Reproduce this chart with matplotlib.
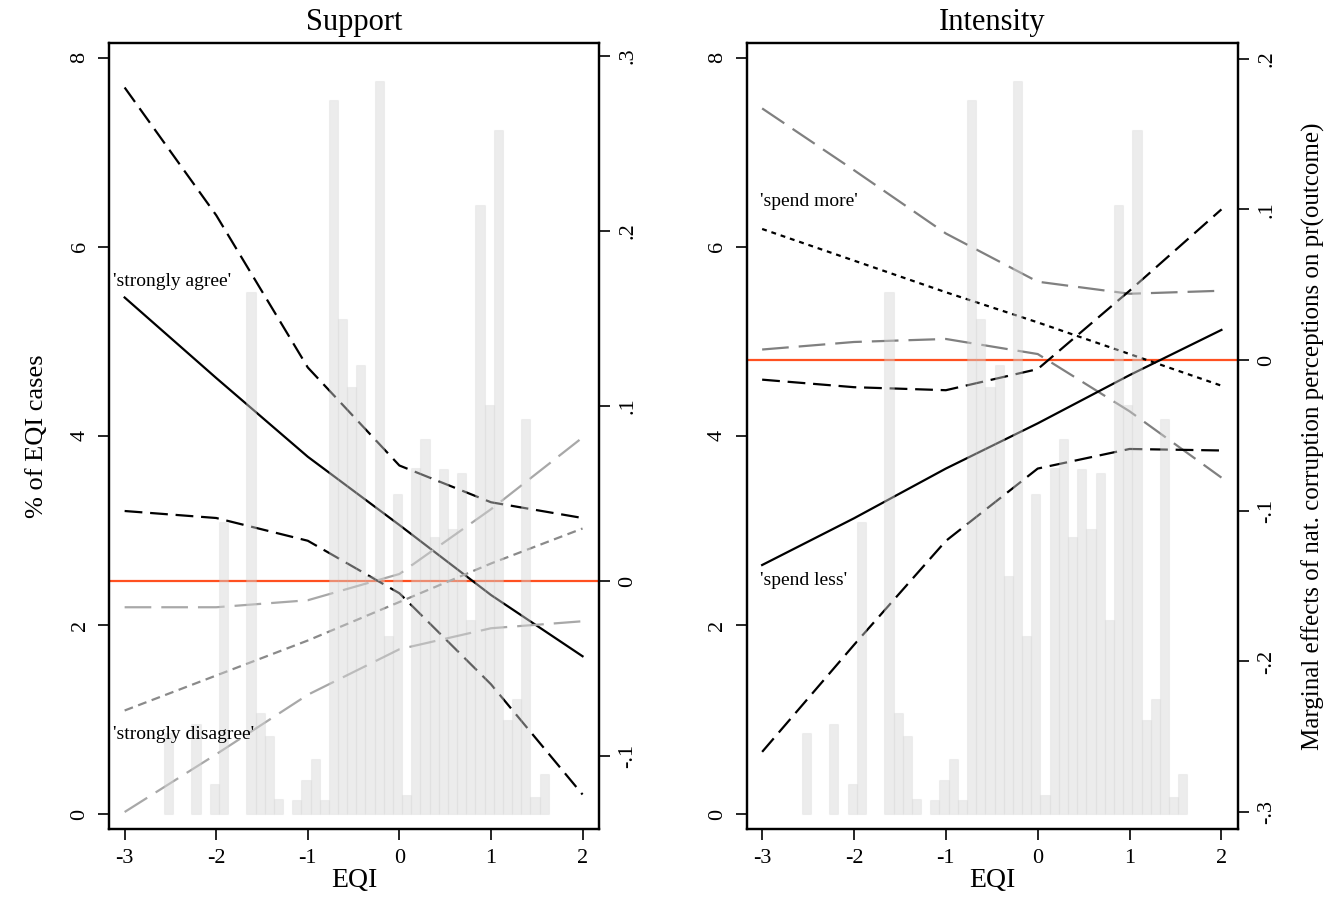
import matplotlib
matplotlib.use('Agg')
import matplotlib.pyplot as plt
from matplotlib.ticker import FuncFormatter

plt.rcParams['font.family'] = ['Liberation Serif', 'DejaVu Serif']
plt.rcParams['axes.unicode_minus'] = False

# EQI values where the margins were evaluated
eqi = [-3, -2, -1, 0, 1, 2]

# histogram of EQI, % of cases per 0.1 wide bin (left edge of each bin)
bins_left = [-2.57, -2.27, -2.07, -1.97, -1.67, -1.57, -1.47, -1.37,
             -1.17, -1.07, -0.97, -0.87, -0.77, -0.67, -0.57, -0.47,
             -0.37, -0.27, -0.17, -0.07, 0.03, 0.13, 0.23, 0.33,
             0.43, 0.53, 0.63, 0.73, 0.83, 0.93, 1.03, 1.13,
             1.23, 1.33, 1.43, 1.53]
pct = [0.86, 0.95, 0.32, 3.09, 5.52, 1.07, 0.83, 0.16,
       0.15, 0.36, 0.58, 0.15, 7.55, 5.24, 4.52, 4.75,
       2.52, 7.76, 1.88, 3.39, 0.20, 3.66, 3.97, 2.93,
       3.65, 3.01, 3.61, 2.05, 6.44, 4.33, 7.24, 0.99,
       1.22, 4.18, 0.18, 0.42]

# Support: marginal effects on pr(outcome)
agree = [0.162, 0.116, 0.071, 0.032, -0.008, -0.043]
agree_hi = [0.282, 0.209, 0.122, 0.066, 0.045, 0.036]
agree_lo = [0.040, 0.036, 0.023, -0.007, -0.059, -0.122]
disagree = [-0.074, -0.054, -0.034, -0.012, 0.010, 0.030]
disagree_hi = [-0.015, -0.015, -0.011, 0.004, 0.041, 0.082]
disagree_lo = [-0.132, -0.099, -0.065, -0.039, -0.027, -0.023]

# Intensity
more = [0.087, 0.066, 0.045, 0.025, 0.004, -0.017]
more_hi = [0.167, 0.126, 0.084, 0.052, 0.044, 0.046]
more_lo = [0.007, 0.012, 0.014, 0.004, -0.034, -0.078]
less = [-0.136, -0.105, -0.072, -0.042, -0.010, 0.020]
less_hi = [-0.013, -0.018, -0.020, -0.006, 0.046, 0.100]
less_lo = [-0.260, -0.189, -0.120, -0.072, -0.059, -0.060]


def stata_fmt(v, pos):
    # .1 instead of 0.1, like Stata does
    if abs(v) < 1e-9:
        return '0'
    return ('%.1f' % v).replace('0.', '.')


def make_panel(rect, title, me_lim, me_ticks):
    ax = fig.add_axes(rect)
    ax2 = ax.twinx()
    # histogram goes on top of the lines (it is see-through)
    ax.set_zorder(2)
    ax2.set_zorder(1)
    ax.patch.set_visible(False)

    ax.bar(bins_left, pct, width=0.1, align='edge',
           facecolor=(0.84, 0.84, 0.84, 0.45),
           edgecolor=(0.75, 0.75, 0.75, 0.15), linewidth=0.8)
    ax.set_xlim(-3.17, 2.18)
    ax.set_ylim(-0.162, 8.16)
    ax.set_xticks(eqi)
    ax.set_yticks([0, 2, 4, 6, 8])
    ax.set_xlabel('EQI', fontsize=20, labelpad=0)
    ax.set_title(title, fontsize=22, pad=9)

    ax2.axhline(0, color='#ff5020', linewidth=1.6)
    ax2.set_ylim(me_lim)
    ax2.set_yticks(me_ticks)
    ax2.yaxis.set_major_formatter(FuncFormatter(stata_fmt))

    for a in (ax, ax2):
        a.tick_params(direction='out', length=8, width=1.2, labelsize=16, pad=6)
        a.tick_params(axis='y', labelrotation=90)
        for sp in a.spines.values():
            sp.set_linewidth(1.6)
    for lab in ax.get_yticklabels() + ax2.get_yticklabels():
        lab.set_va('center')
    return ax, ax2


fig = plt.figure(figsize=(13.3, 8.99), dpi=100)

# left panel: Support
ax, ax2 = make_panel([0.0820, 0.0775, 0.3684, 0.875], 'Support',
                     (-0.1419, 0.3076), [-0.1, 0, 0.1, 0.2, 0.3])
ax2.plot(eqi, agree_hi, color='black', linewidth=1.6, linestyle=(0, (8, 3.5)))
ax2.plot(eqi, agree, color='black', linewidth=1.6)
ax2.plot(eqi, agree_lo, color='black', linewidth=1.6, linestyle=(0, (8, 3.5)))
ax2.plot(eqi, disagree_hi, color='#a8a8a8', linewidth=1.6, linestyle=(0, (12, 4.5)))
ax2.plot(eqi, disagree, color='#8a8a8a', linewidth=1.6, linestyle=(0, (4, 2.5)))
ax2.plot(eqi, disagree_lo, color='#a8a8a8', linewidth=1.6, linestyle=(0, (12, 4.5)))
ax.text(-3.13, 5.63, "'strongly agree'", fontsize=14, va='center')
ax.text(-3.13, 0.84, "'strongly disagree'", fontsize=14, va='center')
ax.set_ylabel('% of EQI cases', fontsize=19, labelpad=16)

# right panel: Intensity
bx, bx2 = make_panel([0.5613, 0.0775, 0.3695, 0.875], 'Intensity',
                     (-0.3114, 0.2106), [-0.3, -0.2, -0.1, 0, 0.1, 0.2])
bx2.plot(eqi, more_hi, color='#808080', linewidth=1.6, linestyle=(0, (12, 4.5)))
bx2.plot(eqi, more, color='black', linewidth=1.6, linestyle=(0, (2.2, 2.2)))
bx2.plot(eqi, more_lo, color='#808080', linewidth=1.6, linestyle=(0, (12, 4.5)))
bx2.plot(eqi, less_hi, color='black', linewidth=1.6, linestyle=(0, (8, 3.5)))
bx2.plot(eqi, less, color='black', linewidth=1.6)
bx2.plot(eqi, less_lo, color='black', linewidth=1.6, linestyle=(0, (8, 3.5)))
bx.text(-3.02, 6.48, "'spend more'", fontsize=14, va='center')
bx.text(-3.02, 2.47, "'spend less'", fontsize=14, va='center')
bx2.set_ylabel('Marginal effects of nat. corruption perceptions on pr(outcome)',
               fontsize=18, labelpad=18)

fig.savefig('out.png', dpi=100)
